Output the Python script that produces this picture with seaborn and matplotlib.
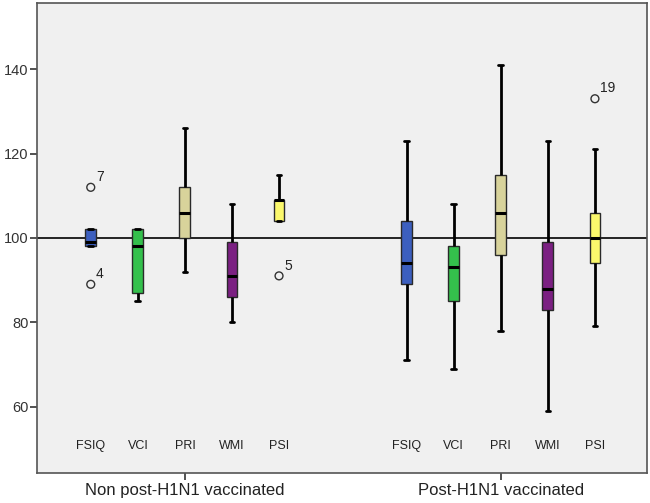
import numpy as np
import pandas as pd
import matplotlib
matplotlib.use("Agg")
import matplotlib.pyplot as plt
import seaborn as sns

# --- data: five-number summary per box (min, Q1, median, Q3, max) ---
grupos = ["Non post-H1N1 vaccinated", "Post-H1N1 vaccinated"]
indices = ["FSIQ", "VCI", "PRI", "WMI", "PSI"]

non_fsiq = [98, 98, 99, 102, 102]
non_vci = [85, 87, 98, 102, 102]
non_pri = [92, 100, 106, 112, 126]
non_wmi = [80, 86, 91, 99, 108]
non_psi = [104, 104, 109, 109, 115]

post_fsiq = [71, 89, 94, 104, 123]
post_vci = [69, 85, 93, 98, 108]
post_pri = [78, 96, 106, 115, 141]
post_wmi = [59, 83, 88, 99, 123]
post_psi = [79, 94, 100, 106, 121]

# outliers: (grupo, indice, valor, caso)
out_grupo = ["Non post-H1N1 vaccinated", "Non post-H1N1 vaccinated",
             "Non post-H1N1 vaccinated", "Post-H1N1 vaccinated"]
out_indice = ["FSIQ", "FSIQ", "PSI", "PSI"]
out_valor = [112, 89, 91, 133]
out_caso = ["7", "4", "5", "19"]

cores = ["#3c5fbf", "#34c04c", "#d8d39b", "#7b2082", "#fbf86c"]

series = {
    (grupos[0], "FSIQ"): non_fsiq, (grupos[0], "VCI"): non_vci,
    (grupos[0], "PRI"): non_pri, (grupos[0], "WMI"): non_wmi,
    (grupos[0], "PSI"): non_psi,
    (grupos[1], "FSIQ"): post_fsiq, (grupos[1], "VCI"): post_vci,
    (grupos[1], "PRI"): post_pri, (grupos[1], "WMI"): post_wmi,
    (grupos[1], "PSI"): post_psi,
}
linhas = []
for (g, i), vals in series.items():
    for v in vals:
        linhas.append({"grupo": g, "indice": i, "valor": v})
df = pd.DataFrame(linhas)

sns.set_theme(style="white")
plt.rcParams["font.family"] = ["Liberation Sans", "DejaVu Sans"]

fig = plt.figure(figsize=(6.5, 5.03), dpi=100)
ax = fig.add_axes([0.057, 0.06, 0.938, 0.934])
ax.set_facecolor("#f0f0f0")

largura = 0.745
sns.boxplot(data=df, x="grupo", y="valor", hue="indice", order=grupos,
            hue_order=indices, palette=cores, saturation=1, width=largura,
            gap=0.77, whis=(0, 100), showfliers=False, legend=False, ax=ax,
            linecolor="#2a2a2a", linewidth=1.0,
            medianprops={"color": "black", "linewidth": 2.2},
            whiskerprops={"color": "black", "linewidth": 2.0},
            capprops={"color": "black", "linewidth": 2.0},
            capwidths=0.015)

ax.axhline(100, color="black", lw=1.2, zorder=1)

passo = largura / len(indices)
def xpos(g, i):
    return grupos.index(g) + (indices.index(i) - 2) * passo

# outliers como circulos abertos
ox = [xpos(g, i) for g, i in zip(out_grupo, out_indice)]
sns.scatterplot(x=ox, y=out_valor, ax=ax, marker="o", s=32,
                facecolor="none", edgecolor="#333333", linewidth=1.0,
                zorder=5)
for x, v, c in zip(ox, out_valor, out_caso):
    ax.text(x + 0.016, v + 0.8, c, fontsize=10, color="#222222",
            ha="left", va="bottom")

# rotulos dos indices dentro do grafico
for g in grupos:
    for i in indices:
        ax.text(xpos(g, i), 50.7, i, fontsize=9, color="#222222",
                ha="center", va="center")

ax.set_ylim(44.3, 155.7)
ax.set_xlim(-0.468, 1.462)
ax.set_yticks([60, 80, 100, 120, 140])
ax.set_xlabel("")
ax.set_ylabel("")
ax.tick_params(axis="y", length=5, width=1.2, color="#333333",
               labelsize=10.5, labelcolor="#333333", pad=1, left=True)
ax.tick_params(axis="x", length=5, width=1.2, color="#333333",
               labelsize=12, labelcolor="#222222", pad=2, bottom=True)
for s in ax.spines.values():
    s.set_color("#555555")
    s.set_linewidth(1.2)

fig.savefig("out.png", dpi=100, facecolor="white")
